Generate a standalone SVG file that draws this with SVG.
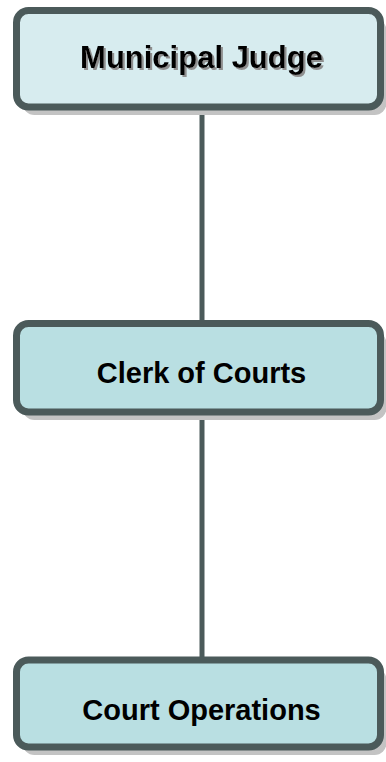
<svg xmlns="http://www.w3.org/2000/svg" width="386" height="762" viewBox="0 0 386 762">
  <defs>
    <filter id="textShadow" x="-5%" y="-20%" width="115%" height="150%">
      <feDropShadow dx="2" dy="2" stdDeviation="0.4" flood-color="#8f8f8f" flood-opacity="1"/>
    </filter>
  </defs>
  <style>
    .box { stroke: #4b5a5a; stroke-width: 7; }
    .shadow { fill: #c3c3c3; }
    .top { fill: #d7ecef; }
    .sub { fill: #b9dfe2; }
    .label { font-family: "Liberation Sans", Arial, sans-serif; font-weight: bold; fill: #000; text-anchor: middle; }
    .link { stroke: #4b5a5a; stroke-width: 5; fill: none; }
  </style>
  <rect width="386" height="762" fill="#ffffff"/>

  <g id="connectors">
    <line class="link" x1="202" y1="108" x2="202" y2="322"/>
    <line class="link" x1="202" y1="418" x2="202" y2="659"/>
  </g>

  <g id="municipal-judge">
    <rect class="shadow" x="22.5" y="18.5" width="364" height="96.5" rx="12"/>
    <rect class="box top" x="16.5" y="10.5" width="364" height="96.5" rx="12"/>
    <text class="label" x="201.5" y="67.5" font-size="31" filter="url(#textShadow)">Municipal Judge</text>
  </g>

  <g id="clerk-of-courts">
    <rect class="shadow" x="22.5" y="331.5" width="364" height="88.5" rx="12"/>
    <rect class="box sub" x="16.5" y="323.5" width="364" height="88.5" rx="12"/>
    <text class="label" x="201.5" y="383" font-size="29">Clerk of Courts</text>
  </g>

  <g id="court-operations">
    <rect class="shadow" x="22.5" y="668" width="364" height="87" rx="12"/>
    <rect class="box sub" x="16.5" y="660" width="364" height="87" rx="12"/>
    <text class="label" x="201.5" y="720" font-size="29">Court Operations</text>
  </g>
</svg>
